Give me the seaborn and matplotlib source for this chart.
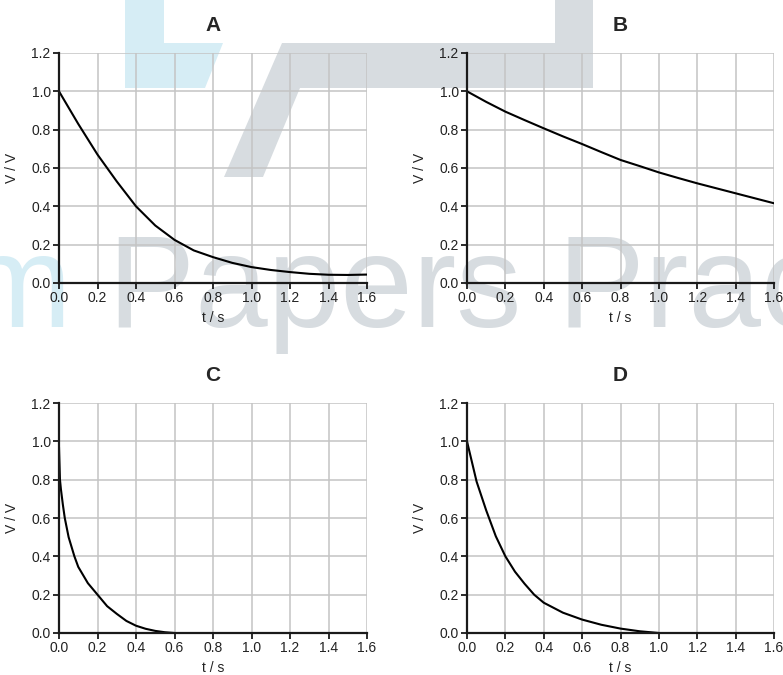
import pandas as pd
import seaborn as sns
import matplotlib.pyplot as plt
from matplotlib.patches import Polygon

# readings (t in s, V in V)
t_a = [0.0, 0.1, 0.2, 0.3, 0.4, 0.5, 0.6, 0.7, 0.8, 0.9, 1.0, 1.1, 1.2, 1.3, 1.4, 1.5, 1.6]
v_a = [1.0, 0.83, 0.67, 0.53, 0.40, 0.30, 0.225, 0.17, 0.135, 0.105, 0.083, 0.068, 0.057, 0.048, 0.043, 0.042, 0.044]

t_b = [0.0, 0.1, 0.2, 0.3, 0.4, 0.5, 0.6, 0.7, 0.8, 0.9, 1.0, 1.1, 1.2, 1.3, 1.4, 1.5, 1.6]
v_b = [1.0, 0.945, 0.894, 0.85, 0.807, 0.765, 0.725, 0.683, 0.642, 0.61, 0.577, 0.548, 0.52, 0.494, 0.468, 0.442, 0.416]

t_c = [0.0, 0.005, 0.01, 0.02, 0.03, 0.05, 0.08, 0.1, 0.15, 0.2, 0.25, 0.3, 0.35, 0.4, 0.45, 0.5, 0.55, 0.6]
v_c = [0.97, 0.8, 0.75, 0.67, 0.6, 0.5, 0.4, 0.345, 0.26, 0.2, 0.14, 0.1, 0.063, 0.038, 0.022, 0.011, 0.004, 0.0]

t_d = [0.0, 0.05, 0.1, 0.15, 0.2, 0.25, 0.3, 0.35, 0.4, 0.5, 0.6, 0.7, 0.8, 0.9, 1.0]
v_d = [1.0, 0.79, 0.64, 0.505, 0.4, 0.32, 0.257, 0.2, 0.158, 0.106, 0.07, 0.043, 0.023, 0.009, 0.0]

panels = ['A', 'B', 'C', 'D']
ticks_x = [0.0, 0.2, 0.4, 0.6, 0.8, 1.0, 1.2, 1.4, 1.6]
ticks_y = [0.0, 0.2, 0.4, 0.6, 0.8, 1.0, 1.2]

df = pd.concat([
    pd.DataFrame({'t': t_a, 'V': v_a, 'panel': 'A'}),
    pd.DataFrame({'t': t_b, 'V': v_b, 'panel': 'B'}),
    pd.DataFrame({'t': t_c, 'V': v_c, 'panel': 'C'}),
    pd.DataFrame({'t': t_d, 'V': v_d, 'panel': 'D'}),
])

sns.set_theme(style="white")
plt.rcParams['font.family'] = ['Liberation Sans', 'DejaVu Sans']

W, H = 783, 675
fig = plt.figure(figsize=(W / 100, H / 100), dpi=100)


def px(pts):
    return [(x / W, 1 - y / H) for x, y in pts]


# background watermark, kept beneath the axes
blue_shape = [(125, 0), (164, 0), (164, 43), (223, 43), (205, 88), (125, 88)]
grey_shape = [(282, 43), (555, 43), (555, 0), (593, 0), (593, 88), (300, 88), (263, 177), (224, 177)]
fig.patches.append(Polygon(px(blue_shape), closed=True, transform=fig.transFigure,
                           fc='#d6edf5', ec='none', zorder=-2))
fig.patches.append(Polygon(px(grey_shape), closed=True, transform=fig.transFigure,
                           fc='#d7dce0', ec='none', zorder=-2))
fig.text(71 / W, 1 - 327 / H, 'm', ha='right', va='baseline', fontsize=94,
         color='#d6edf5', zorder=-2)
fig.text(108 / W, 1 - 327 / H, 'Papers Prac', ha='left', va='baseline', fontsize=94,
         color='#d7dce0', zorder=-2)

# axes boxes in pixels: left, right, top, bottom
boxes = {'A': (59, 367, 53, 283), 'B': (467, 774, 53, 283),
         'C': (59, 367, 403, 633), 'D': (467, 774, 403, 633)}

for name in panels:
    l, r, t, b = boxes[name]
    ax = fig.add_axes([l / W, 1 - b / H, (r - l) / W, (b - t) / H])
    ax.set_zorder(1)
    ax.set_facecolor('none')
    sns.lineplot(data=df[df['panel'] == name], x='t', y='V', ax=ax,
                 color='black', linewidth=1.5, zorder=5)
    ax.set_xlim(0, 1.6)
    ax.set_ylim(0, 1.2)
    ax.set_xticks(ticks_x)
    ax.set_yticks(ticks_y)
    ax.set_xticklabels([f'{v:.1f}' for v in ticks_x])
    ax.set_yticklabels([f'{v:.1f}' for v in ticks_y])
    ax.grid(True, color='#c4c4c4', linewidth=1.1)
    ax.set_axisbelow(True)
    for side in ['top', 'right']:
        ax.spines[side].set_visible(False)
    for side in ['left', 'bottom']:
        ax.spines[side].set_color('#1a1a1a')
        ax.spines[side].set_linewidth(1.6)
        ax.spines[side].set_zorder(6)
    ax.tick_params(axis='both', direction='out', length=4, width=1.3, color='#1a1a1a',
                   labelsize=10, labelcolor='#222222', bottom=True, left=True, pad=2)
    ax.set_xlabel('t / s', fontsize=10, color='#222222', labelpad=4)
    ax.set_ylabel('V / V', fontsize=10, color='#222222', labelpad=9)
    ax.set_title(name, fontsize=15, fontweight='bold', pad=16)

fig.savefig('out.png', dpi=100)
